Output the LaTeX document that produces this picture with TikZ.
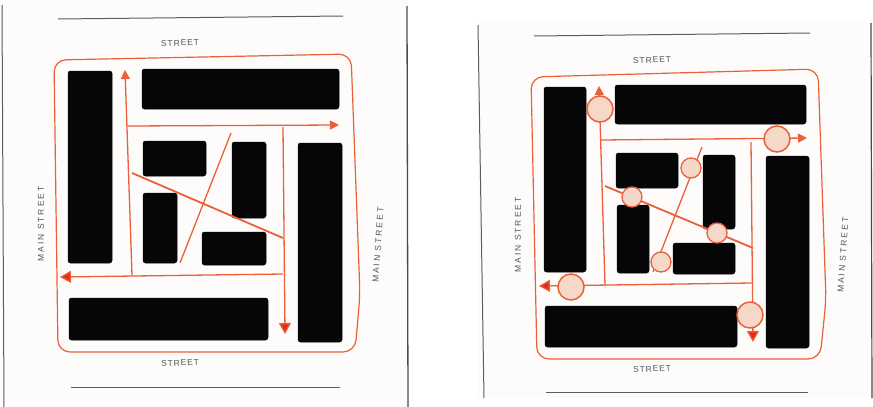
\documentclass[tikz,border=0pt]{standalone}
\usepackage{fontspec}
\newfontfamily\shortlabel[LetterSpace=10]{Liberation Sans}
\newfontfamily\longlabel[LetterSpace=24]{Liberation Sans}
\usetikzlibrary{arrows.meta}
\definecolor{paper}{HTML}{FEFCFA}
\definecolor{route}{HTML}{E9603A}
\definecolor{routehead}{HTML}{E22C14}
\definecolor{stop}{HTML}{F6D8C8}
\definecolor{rule}{HTML}{5A5D62}
\definecolor{ink}{HTML}{060608}
\definecolor{penlabel}{HTML}{55565A}
\tikzset{
  block/.style={fill=ink,draw=ink,line width=.5pt,rounded corners=2.5pt},
  outline/.style={draw=route,line width=1.2pt,rounded corners=12pt},
  road/.style={draw=route,line width=1.3pt},
  oneway/.style={road,-{Triangle[length=9pt,width=9pt,fill=route]}},
  onewaybig/.style={road,-{Triangle[length=11pt,width=12pt,fill=routehead]}},
  wide/.style={draw=route,line width=1.8pt},
  pageline/.style={draw=rule,line width=1pt},
  bigstop/.style={circle,draw=route,fill=stop,line width=1.5pt,minimum size=26pt,inner sep=0pt},
  smallstop/.style={circle,draw=route,fill=stop,line width=1.3pt,minimum size=20pt,inner sep=0pt},
  shortstreet/.style={text=penlabel,font=\shortlabel\fontsize{8.5}{9}\selectfont,inner sep=0pt},
  longstreet/.style={text=penlabel,font=\longlabel\fontsize{8.5}{9}\selectfont,inner sep=0pt,rotate=90},
}
\begin{document}
\begin{tikzpicture}[x=1pt,y=-1pt]
\useasboundingbox (0,0) rectangle (873,407);
\fill[white] (0,0) rectangle (873,407);
\fill[paper] (0,0) rectangle (407,407);
\fill[paper] (478,22) rectangle (872,398);
% page edges
\draw[pageline] (2,5) -- (4,407);
\draw[draw=rule!80!black,line width=1.3pt] (407,6) -- (408,407);
\draw[pageline] (478,25) -- (484,398);
\draw[draw=rule!80!black,line width=1.2pt] (871,23) -- (872,398);
\draw[pageline] (58,19) -- (343,16);
\draw[pageline] (71,387) -- (340,387);
\draw[pageline] (534,36) -- (810,33);
\draw[pageline] (546,392) -- (808,392);
% ---- left panel
\draw[outline] (54,60) -- (351,54) -- (360,295) -- (355,352) -- (58,352) -- cycle;
\fill[block] (68,71) rectangle (112,263);
\fill[block] (142,69) rectangle (339,109);
\fill[block] (143,141) rectangle (206,176);
\fill[block] (232,142) rectangle (266,218);
\fill[block] (143,193) rectangle (177,263);
\fill[block] (202,232) rectangle (266,265);
\fill[block] (69,298) rectangle (268,340);
\fill[block] (298,143) rectangle (342,342);
\coordinate (la1) at (132,275); \coordinate (la2) at (125,70);
\coordinate (lb1) at (128,126); \coordinate (lb2) at (339,125);
\coordinate (lc1) at (283,127); \coordinate (lc2) at (285,334);
\coordinate (ld1) at (283,274); \coordinate (ld2) at (60,277);
\coordinate (le1) at (132,173); \coordinate (le2) at (283,238);
\coordinate (lf1) at (231,133); \coordinate (lf2) at (180,263);
\draw[oneway] (la1) -- (la2);
\draw[oneway] (lb1) -- (lb2);
\draw[onewaybig] (lc1) -- (lc2);
\draw[onewaybig] (ld1) -- (ld2);
\draw[wide] (le1) -- (le2);
\draw[road] (lf1) -- (lf2);
\node[shortstreet,rotate=2] (lt) at (180,43) {STREET};
\node[shortstreet,rotate=3] (lbm) at (180,363) {STREET};
\node[longstreet] (ll) at (41,224) {MAIN STREET};
\node[longstreet,rotate=-4] (lr) at (378,245) {MAIN STREET};
% ---- right panel
\draw[outline] (531,77) -- (818,69) -- (826,300) -- (820,359) -- (537,359) -- cycle;
\fill[block] (544,87) rectangle (586,272);
\fill[block] (615,85) rectangle (806,124);
\fill[block] (616,153) rectangle (678,188);
\fill[block] (703,155) rectangle (735,229);
\fill[block] (617,205) rectangle (649,273);
\fill[block] (673,243) rectangle (735,274);
\fill[block] (545,306) rectangle (737,347);
\fill[block] (766,156) rectangle (809,348);
\coordinate (ra1) at (605,285); \coordinate (ra2) at (599,86);
\coordinate (rb1) at (601,140); \coordinate (rb2) at (807,138);
\coordinate (rc1) at (751,142); \coordinate (rc2) at (753,342);
\coordinate (rd1) at (752,283); \coordinate (rd2) at (539,286);
\coordinate (re1) at (605,186); \coordinate (re2) at (753,248);
\coordinate (rf1) at (702,147); \coordinate (rf2) at (653,272);
\draw[oneway] (ra1) -- (ra2);
\draw[oneway] (rb1) -- (rb2);
\draw[onewaybig] (rc1) -- (rc2);
\draw[onewaybig] (rd1) -- (rd2);
\draw[wide] (re1) -- (re2);
\draw[road] (rf1) -- (rf2);
\node[bigstop] (s1) at (600,109) {};
\node[bigstop] (s2) at (777,139) {};
\node[bigstop] (s3) at (571,287) {};
\node[bigstop] (s4) at (750,315) {};
\node[smallstop] (s5) at (691,168) {};
\node[smallstop] (s6) at (632,197) {};
\node[smallstop] (s7) at (717,233) {};
\node[smallstop] (s8) at (661,262) {};
\node[shortstreet,rotate=2] (rt) at (652,60) {STREET};
\node[shortstreet,rotate=3] (rbm) at (652,369) {STREET};
\node[longstreet] (rl) at (518,235) {MAIN STREET};
\node[longstreet,rotate=-4] (rr) at (843,255) {MAIN STREET};
\end{tikzpicture}
\end{document}
